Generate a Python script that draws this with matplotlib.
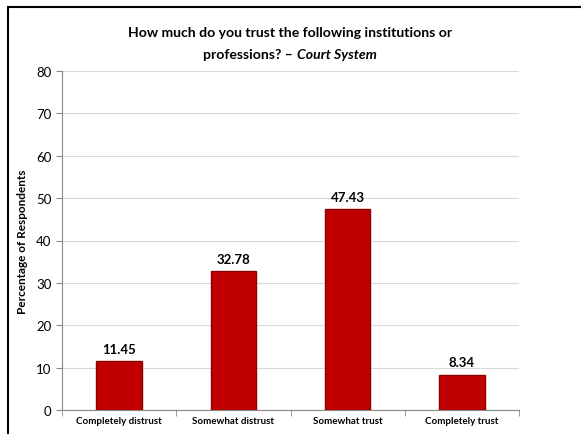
import matplotlib.pyplot as plt
import numpy as np
from matplotlib.patches import Rectangle

categories = ['Completely distrust', 'Somewhat distrust', 'Somewhat trust', 'Completely trust']
values = [11.45, 32.78, 47.43, 8.34]
yticks = [0, 10, 20, 30, 40, 50, 60, 70, 80]

plt.rcParams['font.family'] = ['Lato', 'DejaVu Sans']

W, H = 581, 435
fig = plt.figure(figsize=(W / 100, H / 100), dpi=100)
ax = fig.add_axes([62 / W, 1 - 411 / H, (519 - 62) / W, (411 - 72) / H])

# chart border (cut off on right and bottom like the source)
fig.patches.append(Rectangle((8 / W, -0.05), 1.1, 1 - 8 / H + 0.05, transform=fig.transFigure,
                             fill=False, edgecolor='black', linewidth=1.5))

x = np.arange(len(categories))
ax.bar(x, values, width=0.4, color='#c00000', edgecolor='#8b0000', linewidth=1, zorder=3)
for xi, v in zip(x, values):
    ax.text(xi, v + 1.5, f'{v:.2f}', ha='center', va='bottom', fontsize=9.5, fontweight='bold')

ax.set_xlim(-0.5, len(categories) - 0.5)
ax.set_ylim(0, 80)
ax.set_yticks(yticks)
ax.tick_params(axis='y', labelsize=9.5, length=4, color='#888888', direction='out')
ax.set_xticks(x)
ax.set_xticklabels(categories, fontsize=7, fontweight='bold')
ax.tick_params(axis='x', length=0, pad=4)
ax.set_xticks(np.arange(len(categories) + 1) - 0.5, minor=True)
ax.tick_params(axis='x', which='minor', length=4, color='#888888')
ax.grid(axis='y', color='#d9d9d9', linewidth=0.8, zorder=0)

for s in ['top', 'right']:
    ax.spines[s].set_visible(False)
for s in ['left', 'bottom']:
    ax.spines[s].set_color('#888888')

ax.set_ylabel('Percentage of Respondents', fontsize=8.5, fontweight='bold', labelpad=6)

title_kw = dict(fontsize=10.1, fontweight='bold', va='center')
fig.text(290 / W, 1 - 33 / H, 'How much do you trust the following institutions or',
         ha='center', **title_kw)
# second title line: plain + italic part, centred together
r = fig.canvas.get_renderer()
t1 = fig.text(0, 1 - 55 / H, 'professions? – ', ha='left', **title_kw)
t2 = fig.text(0, 1 - 55 / H, 'Court System', ha='left', fontstyle='italic', **title_kw)
w1 = t1.get_window_extent(r).width
w2 = t2.get_window_extent(r).width
x0 = 290 - (w1 + w2) / 2
t1.set_x(x0 / W)
t2.set_x((x0 + w1) / W)

fig.savefig('out.png', dpi=100)
